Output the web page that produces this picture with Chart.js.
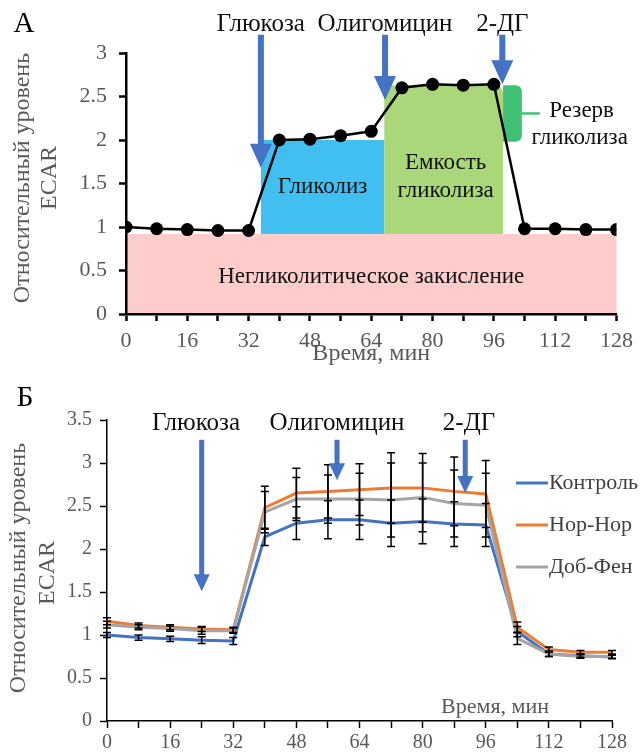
<!DOCTYPE html>
<html lang="ru">
<head>
<meta charset="UTF-8">
<title>ECAR</title>
<script src="https://cdn.jsdelivr.net/npm/chart.js"></script>
<style>
    body { margin: 0; background: #fff; }
    .panel { position: absolute; left: 0; width: 640px; }
    #boxA { top: 0; height: 380px; }
    #boxB { top: 380px; height: 376px; }
</style>
</head>
<body>
<div class="panel" id="boxA"><canvas id="chartA"></canvas></div>
<div class="panel" id="boxB"><canvas id="chartB"></canvas></div>
<script>
// время измерений, мин
const timeMin = [0, 8, 16, 24, 32, 40, 48, 56, 64, 72, 80, 88, 96, 104, 112, 120, 128];

// панель А: схема теста
const ecarScheme = [1.0, 0.98, 0.97, 0.96, 0.96, 2.0, 2.01, 2.05, 2.1, 2.6, 2.64, 2.63, 2.64, 0.98, 0.98, 0.97, 0.97];

// панель Б: три группы и их ошибки
const seriesNames = ['Контроль', 'Нор-Нор', 'Доб-Фен'];
const ecarControl = [1.0, 0.97, 0.955, 0.94, 0.93, 2.14, 2.3, 2.34, 2.34, 2.3, 2.32, 2.29, 2.28, 1.04, 0.78, 0.76, 0.745];
const ecarNorNor  = [1.16, 1.11, 1.09, 1.07, 1.06, 2.48, 2.65, 2.67, 2.69, 2.71, 2.71, 2.67, 2.64, 1.09, 0.83, 0.8, 0.8];
const ecarDobFen  = [1.12, 1.09, 1.075, 1.05, 1.05, 2.43, 2.58, 2.58, 2.58, 2.57, 2.6, 2.53, 2.51, 0.96, 0.78, 0.75, 0.75];
const errControl = [0.03, 0.03, 0.03, 0.04, 0.04, 0.1, 0.19, 0.22, 0.23, 0.27, 0.26, 0.26, 0.25, 0.06, 0.03, 0.02, 0.02];
const errNorNor  = [0.04, 0.03, 0.03, 0.03, 0.03, 0.25, 0.29, 0.31, 0.3, 0.41, 0.4, 0.4, 0.39, 0.06, 0.03, 0.02, 0.02];
const errDobFen  = [0.04, 0.03, 0.03, 0.04, 0.03, 0.24, 0.25, 0.28, 0.3, 0.43, 0.4, 0.39, 0.37, 0.07, 0.03, 0.02, 0.02];

const SERIF = '"Liberation Serif", "DejaVu Serif", serif';
const ARROW = '#4472c4';
const GREY = '#595959';

// добавки (x, конец стрелки по y) для каждой панели
const injectA = [
    { text: 'Глюкоза', x: 35.2, tip: 1.68 },
    { text: 'Олигомицин', x: 67.6, tip: 2.46 },
    { text: '2-ДГ', x: 98.2, tip: 2.64 }
];
const injectB = [
    { text: 'Глюкоза', x: 24, tip: 1.51, tx: 196 },
    { text: 'Олигомицин', x: 58.3, tip: 2.8, tx: 337 },
    { text: '2-ДГ', x: 90.8, tip: 2.65, tx: 469 }
];

function toPoints(ys) {
    return timeMin.map((t, i) => ({ x: t, y: ys[i] }));
}

function arrow(ctx, x, yTop, yTip, shaft, headW, headH) {
    ctx.save();
    ctx.fillStyle = ARROW;
    ctx.fillRect(x - shaft / 2, yTop, shaft, yTip - headH - yTop + 1);
    ctx.beginPath();
    ctx.moveTo(x - headW / 2, yTip - headH);
    ctx.lineTo(x + headW / 2, yTip - headH);
    ctx.lineTo(x, yTip);
    ctx.closePath();
    ctx.fill();
    ctx.restore();
}

function label(ctx, text, x, y, size, color) {
    ctx.save();
    ctx.font = size + 'px ' + SERIF;
    ctx.fillStyle = color || '#111';
    ctx.textAlign = 'center';
    ctx.textBaseline = 'middle';
    ctx.fillText(text, x, y);
    ctx.restore();
}

function vlabel(ctx, text, x, y, size) {
    ctx.save();
    ctx.translate(x, y);
    ctx.rotate(-Math.PI / 2);
    label(ctx, text, 0, 0, size, GREY);
    ctx.restore();
}

function xAxis(size, height, pad, bw) {
    return {
        type: 'linear', min: 0, max: 128,
        border: { color: '#000', width: bw },
        grid: { drawOnChartArea: false, drawTicks: true, tickLength: 7, tickColor: '#000', tickWidth: bw },
        ticks: {
            stepSize: 8, autoSkip: false, maxRotation: 0, padding: pad, color: GREY,
            font: { family: SERIF, size: size },
            callback: v => (v % 16 === 0 ? v : '')
        },
        afterFit: s => { s.height = height; }
    };
}

function yAxis(max, size, width, pad, bw) {
    return {
        min: 0, max: max,
        border: { color: '#000', width: bw },
        grid: { drawOnChartArea: false, drawTicks: true, tickLength: 7, tickColor: '#000', tickWidth: bw },
        ticks: {
            stepSize: 0.5, padding: pad, color: GREY, font: { family: SERIF, size: size },
            callback: v => String(Math.round(v * 10) / 10)
        },
        afterFit: s => { s.width = width; }
    };
}

// ---------- панель А ----------
const zonesA = {
    id: 'zonesA',
    beforeDraw(chart) {
        const { ctx } = chart;
        const X = v => chart.scales.x.getPixelForValue(v);
        const Y = v => chart.scales.y.getPixelForValue(v);
        ctx.save();
        // негликолитическое закисление
        ctx.fillStyle = '#ffcccc';
        ctx.fillRect(X(0), Y(0.92), X(128) - X(0), Y(0) - Y(0.92));
        // гликолиз
        ctx.fillStyle = '#40bff0';
        ctx.fillRect(X(35.2), Y(2.0), X(67.4) - X(35.2), Y(0.92) - Y(2.0));
        // емкость гликолиза
        ctx.fillStyle = '#a9d779';
        ctx.beginPath();
        ctx.roundRect(X(67.4), Y(2.63), X(98.4) - X(67.4), Y(0.92) - Y(2.63), [8, 8, 0, 0]);
        ctx.fill();
        // резерв гликолиза со скобкой
        const x0 = X(98.4), x1 = X(103.3), yt = Y(2.63), yb = Y(1.98), ym = (yt + yb) / 2;
        ctx.fillStyle = '#40c074';
        ctx.beginPath();
        ctx.roundRect(x0, yt, x1 - x0, yb - yt, [0, 6, 6, 0]);
        ctx.fill();
        ctx.strokeStyle = '#40c074';
        ctx.lineWidth = 2.5;
        ctx.beginPath();
        ctx.moveTo(x1, ym);
        ctx.lineTo(X(108), ym);
        ctx.stroke();
        ctx.restore();

        label(ctx, 'Негликолитическое закисление', X(64), Y(0.43), 23);
        label(ctx, 'Гликолиз', X(51.3), Y(1.46), 23);
        label(ctx, 'Емкость', X(83.4), Y(1.74), 23);
        label(ctx, 'гликолиза', X(83.4), Y(1.42), 23);
    },
    afterDraw(chart) {
        const { ctx } = chart;
        const X = v => chart.scales.x.getPixelForValue(v);
        const Y = v => chart.scales.y.getPixelForValue(v);
        injectA.forEach(a => {
            arrow(ctx, X(a.x), Y(3.21), Y(a.tip), 6, 22, 24);
            label(ctx, a.text, X(a.x), Y(3.33), 25);
        });
        label(ctx, 'Резерв', X(118.9), Y(2.33), 23);
        label(ctx, 'гликолиза', X(118.4), Y(2.02), 23);
        label(ctx, 'А', 24, 24, 29, '#000');
        label(ctx, 'Время, мин', X(64), 354, 24, GREY);
        vlabel(ctx, 'Относительный уровень', 23, 178, 24);
        vlabel(ctx, 'ECAR', 50, 178, 24);
    }
};

new Chart(document.getElementById('chartA'), {
    type: 'line',
    data: {
        datasets: [{
            data: toPoints(ecarScheme),
            borderColor: '#000',
            borderWidth: 2.5,
            backgroundColor: '#000',
            pointRadius: 6.5,
            pointBorderWidth: 0,
            tension: 0
        }]
    },
    options: {
        responsive: true,
        maintainAspectRatio: false,
        animation: false,
        layout: { padding: { top: 53, right: 20, left: 0, bottom: 0 } },
        plugins: { legend: { display: false }, tooltip: { enabled: false } },
        scales: {
            x: xAxis(22, 66, 7, 2.5),
            y: yAxis(3, 22, 126, 12, 2.5)
        }
    },
    plugins: [zonesA]
});

// ---------- панель Б ----------
const errorsB = [errControl, errNorNor, errDobFen];
const colorsB = ['#4472c4', '#ed7d31', '#a5a5a5'];

const decorB = {
    id: 'decorB',
    afterDatasetsDraw(chart) {
        const { ctx } = chart;
        const Y = v => chart.scales.y.getPixelForValue(v);
        ctx.save();
        ctx.strokeStyle = '#000';
        ctx.lineWidth = 1.5;
        chart.data.datasets.forEach((ds, i) => {
            const meta = chart.getDatasetMeta(i);
            meta.data.forEach((pt, j) => {
                const v = ds.data[j].y, e = errorsB[i][j];
                const top = Y(v + e), bot = Y(v - e);
                ctx.beginPath();
                ctx.moveTo(pt.x, top); ctx.lineTo(pt.x, bot);
                ctx.moveTo(pt.x - 4, top); ctx.lineTo(pt.x + 4, top);
                ctx.moveTo(pt.x - 4, bot); ctx.lineTo(pt.x + 4, bot);
                ctx.stroke();
            });
        });
        ctx.restore();
    },
    afterDraw(chart) {
        const { ctx } = chart;
        const X = v => chart.scales.x.getPixelForValue(v);
        const Y = v => chart.scales.y.getPixelForValue(v);
        injectB.forEach(a => {
            arrow(ctx, X(a.x), Y(3.27), Y(a.tip), 5, 16, 17);
            label(ctx, a.text, a.tx, 43, 25);
        });
        // легенда
        seriesNames.forEach((name, i) => {
            const y = 103 + i * 42;
            ctx.save();
            ctx.strokeStyle = colorsB[i];
            ctx.lineWidth = 3;
            ctx.beginPath();
            ctx.moveTo(516, y); ctx.lineTo(548, y);
            ctx.stroke();
            ctx.font = '22px ' + SERIF;
            ctx.fillStyle = '#404040';
            ctx.textAlign = 'left';
            ctx.textBaseline = 'middle';
            ctx.fillText(name, 549, y);
            ctx.restore();
        });
        label(ctx, 'Б', 25, 18, 29, '#000');
        label(ctx, 'Время, мин', 495, 327, 22, GREY);
        vlabel(ctx, 'Относительный уровень', 19, 188, 24);
        vlabel(ctx, 'ECAR', 48, 193, 24);
    }
};

new Chart(document.getElementById('chartB'), {
    type: 'line',
    data: {
        datasets: [ecarControl, ecarNorNor, ecarDobFen].map((ys, i) => ({
            label: seriesNames[i],
            data: toPoints(ys),
            borderColor: colorsB[i],
            borderWidth: 3,
            pointRadius: 0,
            tension: 0,
            order: 3 - i
        }))
    },
    options: {
        responsive: true,
        maintainAspectRatio: false,
        animation: false,
        layout: { padding: { top: 40, right: 28, left: 0, bottom: 0 } },
        plugins: { legend: { display: false }, tooltip: { enabled: false } },
        scales: {
            x: xAxis(20, 35, 3, 1.5),
            y: yAxis(3.5, 20, 107, 8, 1.5)
        }
    },
    plugins: [decorB]
});
</script>
</body>
</html>
